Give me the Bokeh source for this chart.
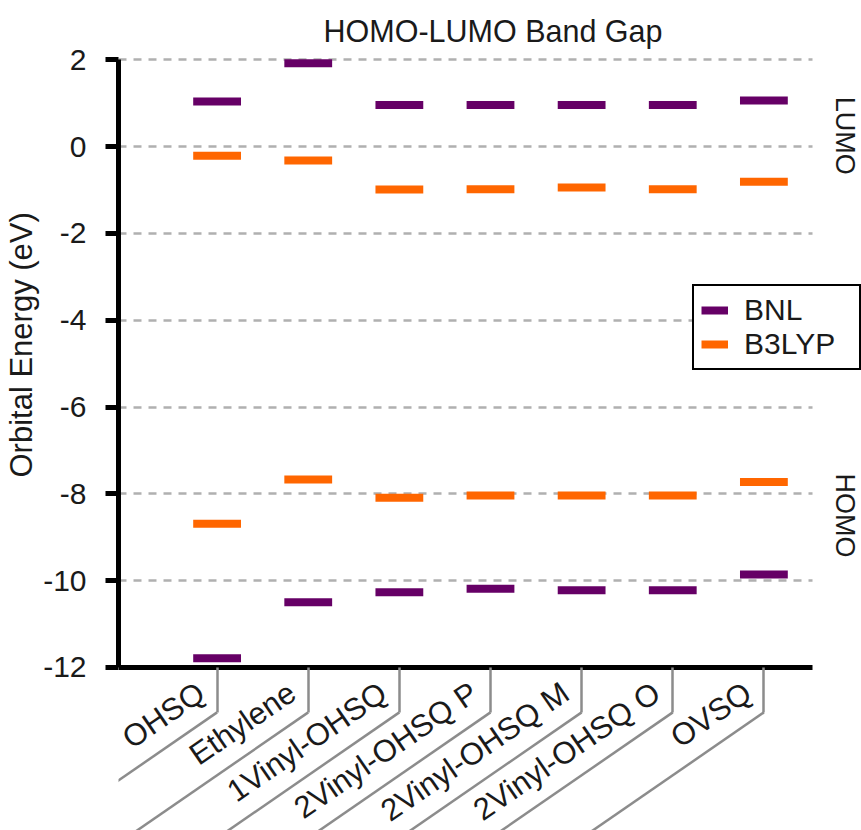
import math
from bokeh.plotting import figure
from bokeh.models import (Range1d, FixedTicker, Legend, LegendItem,
                          ColumnDataSource, Title)
from bokeh.core.properties import value
from bokeh.embed import file_html
from bokeh.resources import INLINE

# ---------------- data ----------------
categories = ["OHSQ", "Ethylene", "1Vinyl-OHSQ", "2Vinyl-OHSQ P",
              "2Vinyl-OHSQ M", "2Vinyl-OHSQ O", "OVSQ"]
bnl_lumo = [1.04, 1.92, 0.96, 0.96, 0.96, 0.96, 1.06]
bnl_homo = [-11.79, -10.50, -10.27, -10.19, -10.22, -10.22, -9.86]
b3lyp_lumo = [-0.21, -0.32, -0.99, -0.98, -0.94, -0.98, -0.81]
b3lyp_homo = [-8.69, -7.67, -8.09, -8.04, -8.04, -8.04, -7.73]
y_ticks = [-12, -10, -8, -6, -4, -2, 0, 2]
side_text = ["LUMO", "HOMO"]
side_y = [0.25, -8.5]
series_names = ["BNL", "B3LYP"]
series_colors = ["#660066", "#ff6600"]

# ---------------- geometry ----------------
W, H = 861, 830
frame_left, axis_right, frame_top = 115, 812, 57
ppu_y = 43.4                      # pixels per eV
ppu_x = 91.5                      # pixels per category
first_px = 214                    # pixel of first category
y_end = 2 + 2.3 / ppu_y
y_start = y_end - (H - frame_top) / ppu_y
x_start = -(first_px - frame_left) / ppu_x
x_end = (W - first_px) / ppu_x
x_axis_end = (axis_right - first_px) / ppu_x
side_x = (844 - first_px) / ppu_x
dash_w = 48 / ppu_x
FONT = "Liberation Sans"
TXT = "#1a1a1a"

p = figure(width=W, height=H, output_backend="svg", toolbar_location=None,
           x_range=Range1d(x_start, x_end), y_range=Range1d(y_start, y_end),
           min_border_left=frame_left, min_border_right=0,
           min_border_top=frame_top, min_border_bottom=0)
p.outline_line_color = None
p.background_fill_color = "white"
p.border_fill_color = "white"

# title
p.title.text = "HOMO-LUMO Band Gap"
p.title.text_font = FONT
p.title.text_font_size = "30.5px"
p.title.text_font_style = "normal"
p.title.text_color = TXT
p.title.align = "left"
p.title.offset = 205
p.title.standoff = 20

# y axis
ya = p.yaxis[0]
ya.ticker = FixedTicker(ticks=y_ticks)
ya.major_label_overrides = {t: str(t) for t in y_ticks}
ya.bounds = (y_ticks[0], y_ticks[-1])
ya.axis_line_width = 5
ya.axis_line_color = "black"
ya.major_tick_line_width = 5
ya.major_tick_line_color = "black"
ya.major_tick_out = 13
ya.major_tick_in = 0
ya.minor_tick_line_color = None
ya.major_label_standoff = 19
ya.major_label_text_font = FONT
ya.major_label_text_font_size = "30px"
ya.major_label_text_color = TXT

ytitle = Title(text="Orbital Energy (eV)", align="left", offset=353,
               standoff=3, text_font=FONT, text_font_size="31px",
               text_font_style="normal", text_color=TXT)
p.add_layout(ytitle, "left")

# x axis (categorical positions)
xpos = list(range(len(categories)))
xa = p.xaxis[0]
xa.fixed_location = y_ticks[0]
xa.bounds = (x_start, x_axis_end)
xa.ticker = FixedTicker(ticks=xpos)
xa.major_label_overrides = {i: "" for i in xpos}
xa.axis_line_width = 5
xa.axis_line_color = "black"
xa.major_tick_line_color = "#8c8c8c"
xa.major_tick_line_width = 2.5
xa.major_tick_out = 45
xa.major_tick_in = 0
xa.minor_tick_line_color = None

# grid
p.xgrid.visible = False
g = p.ygrid[0]
g.ticker = FixedTicker(ticks=y_ticks[1:])
g.grid_line_color = "#b0b0b0"
g.grid_line_width = 2.5
g.grid_line_dash = "8 7"
if "cross_bounds" in g.properties():
    g.cross_bounds = (x_start, x_axis_end)

# leader lines from the tick elbows
theta = 0.602
L = 260
elbow = y_ticks[0] - 45 / ppu_y
lxs = [[x, x - L * math.cos(theta) / ppu_x] for x in xpos]
lys = [[elbow, elbow - L * math.sin(theta) / ppu_y] for x in xpos]
p.multi_line(lxs, lys, line_color="#8c8c8c", line_width=2.5)

# category labels along the leaders
p.text(x=xpos, y=[elbow] * len(xpos), text=categories, angle=theta,
       text_align="right", text_baseline="alphabetic",
       x_offset=-16, y_offset=-23,
       text_font=value(FONT), text_font_size="31px", text_color=TXT)

# LUMO / HOMO side labels
p.text(x=[side_x] * len(side_text), y=side_y, text=side_text, angle=-math.pi / 2,
       text_align="center", text_baseline="middle",
       text_font=value(FONT), text_font_size="27px", text_color=TXT)

# level dashes
renderers = []
for name, color, lumo, homo in zip(series_names, series_colors,
                                   [bnl_lumo, b3lyp_lumo], [bnl_homo, b3lyp_homo]):
    xs = xpos + xpos
    ys = list(lumo) + list(homo)
    src = ColumnDataSource(dict(x0=[x - dash_w / 2 for x in xs],
                                x1=[x + dash_w / 2 for x in xs], y=ys))
    r = p.segment(x0="x0", x1="x1", y0="y", y1="y", source=src,
                  line_color=color, line_width=8, line_cap="butt")
    renderers.append(r)

legend = Legend(items=[LegendItem(label=n, renderers=[r]) for n, r in zip(series_names, renderers)],
                location=(574, 460))
legend.border_line_color = "black"
legend.border_line_alpha = 1
legend.border_line_width = 2
legend.background_fill_color = "white"
legend.background_fill_alpha = 1
legend.label_text_font = FONT
legend.label_text_font_size = "30px"
legend.label_text_color = TXT
legend.glyph_width = 27
legend.glyph_height = 20
legend.label_height = 26
legend.label_width = 108
legend.label_standoff = 16
legend.padding = 7
legend.spacing = -5
legend.margin = 0
p.add_layout(legend)

open("out.html", "w").write(file_html(p, INLINE))
